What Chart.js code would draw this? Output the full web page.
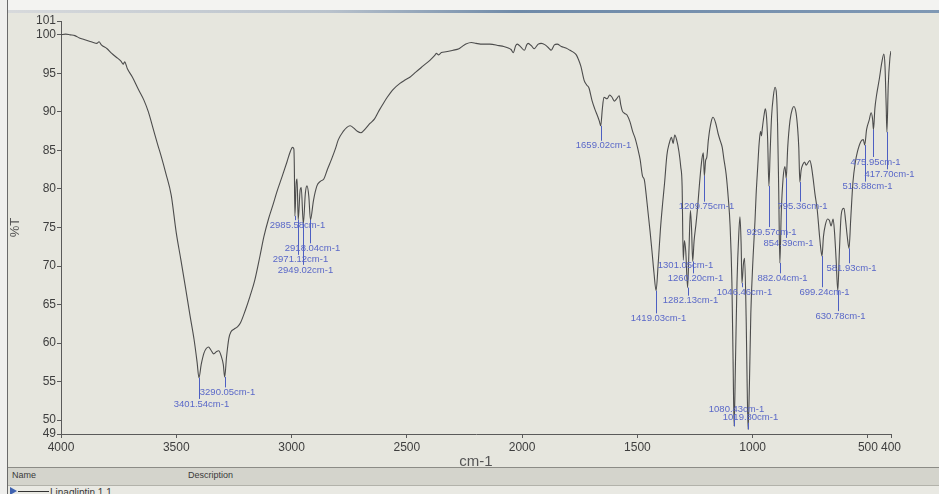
<!DOCTYPE html>
<html>
<head>
<meta charset="utf-8">
<script src="https://cdn.jsdelivr.net/npm/chart.js@4.4.0/dist/chart.umd.min.js"></script>
<style>
html,body{margin:0;padding:0;background:#e5e5dd;}
#wrap{position:relative;width:939px;height:494px;overflow:hidden;background:#e6e6de;}
#c{position:absolute;left:0;top:0;}
.abs{position:absolute;}
.txt{font-family:"Liberation Sans",Arial,sans-serif;color:#3a3a3a;white-space:nowrap;}
</style>
</head>
<body>
<div id="wrap">
  <div class="abs" style="left:0;top:0;width:939px;height:10px;background:#f3f3f1;"></div>
  <div class="abs" style="left:0;top:10px;width:939px;height:3px;background:linear-gradient(to right,#d8dadc 0%,#b9c2cc 35%,#6f8aa8 55%,#7f98b4 100%);"></div>
  <canvas id="c" width="939" height="494"></canvas>
  <div class="abs" style="left:0;top:0;width:7px;height:494px;background:#efefed;border-right:1px solid #6a6a6a;"></div>
  <div class="abs" style="left:8px;top:467px;width:931px;height:17px;background:#d4d4cc;border-top:1px solid #8c8c86;"></div>
  <div class="abs txt" style="left:12px;top:470px;font-size:9px;">Name</div>
  <div class="abs txt" style="left:188px;top:470px;font-size:9px;">Description</div>
  <div class="abs" style="left:8px;top:485px;width:931px;height:9px;background:#e9e9e3;border-top:1px solid #b2b2aa;"></div>
  <div class="abs" style="left:10px;top:487px;width:0;height:0;border-top:4px solid transparent;border-bottom:4px solid transparent;border-left:7px solid #3f62b0;"></div>
  <div class="abs" style="left:18px;top:491px;width:31px;height:1px;background:#333;"></div>
  <div class="abs txt" style="left:50px;top:487px;font-size:10px;">Linagliptin 1.1</div>
</div>
<script>
// ---- data ----
const WAVENUMBER = [
4000,3980,3960,3940,3920,3900,3880,3860,3845,3835,3825,3800,3780,3760,3740,3730,3724,3712,3690,3664,
3640,3621,3600,3580,3565,3545,3522,3500,3480,3460,3440,3423,3410,3401.54,3392,3380,3370,3360,3350,3338,
3325,3316,3305,3296,3290.05,3282,3272,3262,3250,3235,3222,3200,3180,3160,3137,3120,3100,3080,3064,3040,
3020,3005,2996,2990,2988,2985.58,2980,2976,2971.12,2963,2958,2949.02,2940,2933,2925,2918.04,2905,2890,2875,2860,
2845,2826,2810,2797,2775,2760,2746,2730,2715,2699,2680,2660,2640,2620,2600,2585,2560,2530,2510,2487,
2460,2428,2400,2380,2372,2362,2350,2330,2300,2274,2260,2244,2220,2200,2171,2140,2100,2080,2060,2048,
2038,2028,2021,2005,1990,1980,1974,1960,1948,1930,1917,1900,1885,1874,1860,1848,1830,1810,1792,1775,
1765,1757,1745,1731,1720,1710,1697,1685,1672,1665,1659.02,1652,1645,1632,1620,1610,1600,1590,1579,1572,
1565,1555,1545,1532,1520,1510,1498,1488,1478,1470,1462,1455,1445,1436,1428,1419.03,1410,1400,1390,1382,
1372,1362,1352,1345,1338,1330,1320,1312,1306,1301.05,1296,1290,1282.13,1276,1270,1265,1260.20,1254,1246,1238,
1230,1220,1214,1209.75,1204,1199,1192,1180,1172,1160,1150,1140,1132,1125,1115,1106,1098,1090,1085,1080.43,
1075,1068,1060,1055,1050,1046.46,1040,1035,1028,1024,1019.80,1014,1008,998,990,985,978,972,966,962,
958,950,945,940,935,929.57,924,918,910,903,897,892,887,882.04,876,868,860,854.39,848,838,
828,821,812,805,800,795.36,790,782,775,768,760,752,745,738,730,720,710,704,699.24,693,
685,675,667,660,651,645,638,630.78,624,617,610,604,597,590,581.93,575,565,555,545,530,
520,513.88,506,495,486,480,475.95,470,463,450,440,431,426,421,417.70,412,405,400
];
const TRANSMITTANCE = [
100.0,100.1,100.0,99.9,99.6,99.4,99.2,99.0,98.9,99.1,98.7,98.2,97.6,97.1,96.6,96.2,96.5,95.6,94.5,92.9,
91.5,90.0,87.8,85.7,84.2,82.0,79.2,74.3,70.8,67.2,63.5,60.5,57.6,55.5,57.2,58.7,59.3,59.5,59.1,58.6,
58.9,59.0,58.3,57.2,55.6,58.2,60.6,61.5,61.8,62.1,62.6,64.3,66.1,68.1,71.3,73.8,76.1,78.0,79.6,81.7,
83.5,84.9,85.4,85.2,83.0,76.5,80.8,81.3,76.0,79.8,80.2,75.5,79.5,80.4,79.0,76.0,78.5,80.4,81.0,81.3,
82.5,83.9,85.2,86.4,87.5,88.0,88.2,87.9,87.5,87.3,87.8,88.5,89.1,90.2,91.2,91.9,92.9,93.7,94.1,94.5,
95.2,96.0,96.7,97.3,97.6,97.4,97.7,97.8,98.0,98.2,98.5,98.8,99.0,98.9,98.8,98.8,98.6,98.5,98.3,98.1,
97.7,98.6,98.8,98.4,98.0,98.7,98.9,98.6,98.2,98.8,98.9,98.7,98.3,98.0,98.7,98.8,98.5,98.3,98.0,97.7,
97.4,96.9,95.9,94.1,93.5,93.1,91.5,90.4,89.4,88.8,88.2,90.4,91.9,91.7,92.2,91.9,91.4,91.7,92.1,90.9,
90.1,89.8,89.6,88.7,87.4,86.6,85.2,83.8,81.7,81.2,79.3,77.3,74.5,71.7,69.1,66.8,70.2,74.8,78.3,80.8,
84.4,85.9,86.7,85.9,87.0,86.4,84.9,82.9,80.4,70.8,73.3,71.8,67.2,72.3,77.2,74.8,70.6,73.3,75.4,77.9,
80.9,83.9,84.7,81.7,83.7,84.1,86.4,88.7,89.3,88.5,87.2,86.2,85.4,83.9,81.9,78.9,75.3,67.8,57.8,49.2,
56.8,67.8,74.3,76.4,72.8,67.8,70.3,71.0,62.8,54.8,48.8,54.8,63.8,71.3,75.8,79.3,82.9,85.9,87.5,86.9,
87.9,89.7,90.4,89.4,86.4,80.4,84.9,89.4,92.1,93.2,92.4,88.4,79.8,70.4,76.9,81.4,82.9,81.4,85.4,88.9,
90.4,90.7,89.9,87.9,85.4,80.9,82.4,83.2,83.5,83.1,83.4,83.7,82.9,81.4,79.4,77.3,73.9,72.1,71.3,73.8,
75.3,76.1,75.9,75.2,76.1,74.4,70.8,66.8,71.8,76.3,77.4,77.5,75.9,73.9,72.3,75.9,80.9,83.4,84.9,86.2,
86.4,85.7,87.7,88.9,89.9,89.1,87.7,90.4,92.1,94.4,96.4,97.5,95.9,90.9,87.4,93.4,96.9,97.9
];
const X_RANGE = [400, 4000];
const X_TICKS = [4000, 3500, 3000, 2500, 2000, 1500, 1000, 500, 400];
const Y_RANGE = [48.2, 101.8];
const Y_TICKS = [50, 55, 60, 65, 70, 75, 80, 85, 90, 95, 100];
const PEAK_WAVENUMBERS = [3401.54, 3290.05, 2985.58, 2971.12, 2949.02, 2918.04, 1659.02, 1419.03, 1301.05, 1282.13, 1260.20, 1209.75, 1080.43, 1046.46, 1019.80, 929.57, 882.04, 854.39, 795.36, 699.24, 630.78, 581.93, 513.88, 475.95, 417.70];
// layout: level (in %T axis units) where each peak label sits
const PEAK_LABEL_LEVELS = [52.1, 53.6, 75.3, 70.8, 69.5, 72.3, 85.6, 63.2, 70.1, 65.5, 68.4, 77.7, 51.4, 66.6, 50.3, 74.4, 68.4, 73.0, 77.7, 66.6, 63.5, 69.7, 80.3, 83.5, 81.9];

function valueAt(w){
  let best = 0, bd = Infinity;
  WAVENUMBER.forEach((v,i)=>{ const d=Math.abs(v-w); if(d<bd){bd=d;best=i;} });
  return TRANSMITTANCE[best];
}

const peakLabels = {
  id:'peakLabels',
  afterDatasetsDraw(chart){
    const {ctx, scales:{x, y}} = chart;
    ctx.save();
    ctx.font = '9.5px "Liberation Sans", Arial, sans-serif';
    ctx.textAlign = 'center';
    ctx.textBaseline = 'middle';
    PEAK_WAVENUMBERS.forEach((w,i)=>{
      const px = Math.round(x.getPixelForValue(w)) + 0.5;
      const py = y.getPixelForValue(valueAt(w));
      const ly = y.getPixelForValue(PEAK_LABEL_LEVELS[i]);
      ctx.strokeStyle = '#4d5fc2';
      ctx.lineWidth = 1;
      ctx.beginPath();
      if (ly - 5 > py) { ctx.moveTo(px, py); ctx.lineTo(px, ly - 5); }
      else { ctx.moveTo(px, py); ctx.lineTo(px, ly + 5); }
      ctx.stroke();
      ctx.fillStyle = '#5a68c8';
      ctx.fillText(w.toFixed(2) + 'cm-1', px + 2, ly);
    });
    ctx.restore();
  }
};

const tickFont = {family:'"Liberation Sans",Arial,sans-serif', size:12};

new Chart(document.getElementById('c'), {
  type:'line',
  data:{
    datasets:[{
      data: WAVENUMBER.map((w,i)=>({x:w, y:TRANSMITTANCE[i]})),
      borderColor:'#4c4c4c',
      borderWidth:1.1,
      pointRadius:0,
      fill:false,
      cubicInterpolationMode:'monotone'
    }]
  },
  options:{
    responsive:false,
    animation:false,
    devicePixelRatio:1,
    layout:{padding:{left:8, right:48, top:21, bottom:23}},
    plugins:{legend:{display:false}, tooltip:{enabled:false}},
    scales:{
      x:{
        type:'linear', reverse:true, min:X_RANGE[0], max:X_RANGE[1],
        afterBuildTicks:s=>{ s.ticks = X_TICKS.map(v=>({value:v})); },
        afterFit:s=>{ s.height = 37; },
        ticks:{color:'#3e3e3e', font:tickFont, padding:2, maxRotation:0, autoSkip:false,
               callback:v=>String(v)},
        grid:{drawOnChartArea:false, drawTicks:true, tickLength:4, color:'#5a5a5a'},
        border:{display:true, color:'#5a5a5a', width:1},
        title:{display:true, text:'cm-1', color:'#555', padding:0,
               font:{family:'"Liberation Sans",Arial,sans-serif', size:15}}
      },
      y:{
        min:Y_RANGE[0], max:Y_RANGE[1],
        afterBuildTicks:s=>{ s.ticks = [Y_RANGE[0], ...Y_TICKS, Y_RANGE[1]].map(v=>({value:v})); },
        afterFit:s=>{ s.width = 53; },
        ticks:{color:'#3e3e3e', font:tickFont, padding:1, autoSkip:false,
               callback:v=> v===Y_RANGE[0] ? String(Math.ceil(v)) : v===Y_RANGE[1] ? String(Math.floor(v)) : String(v)},
        grid:{drawOnChartArea:false, drawTicks:true, tickLength:4, color:'#5a5a5a'},
        border:{display:true, color:'#5a5a5a', width:1},
        title:{display:true, text:'%T', color:'#555', padding:0,
               font:{family:'"Liberation Sans",Arial,sans-serif', size:13}}
      }
    }
  },
  plugins:[peakLabels]
});
</script>
</body>
</html>
